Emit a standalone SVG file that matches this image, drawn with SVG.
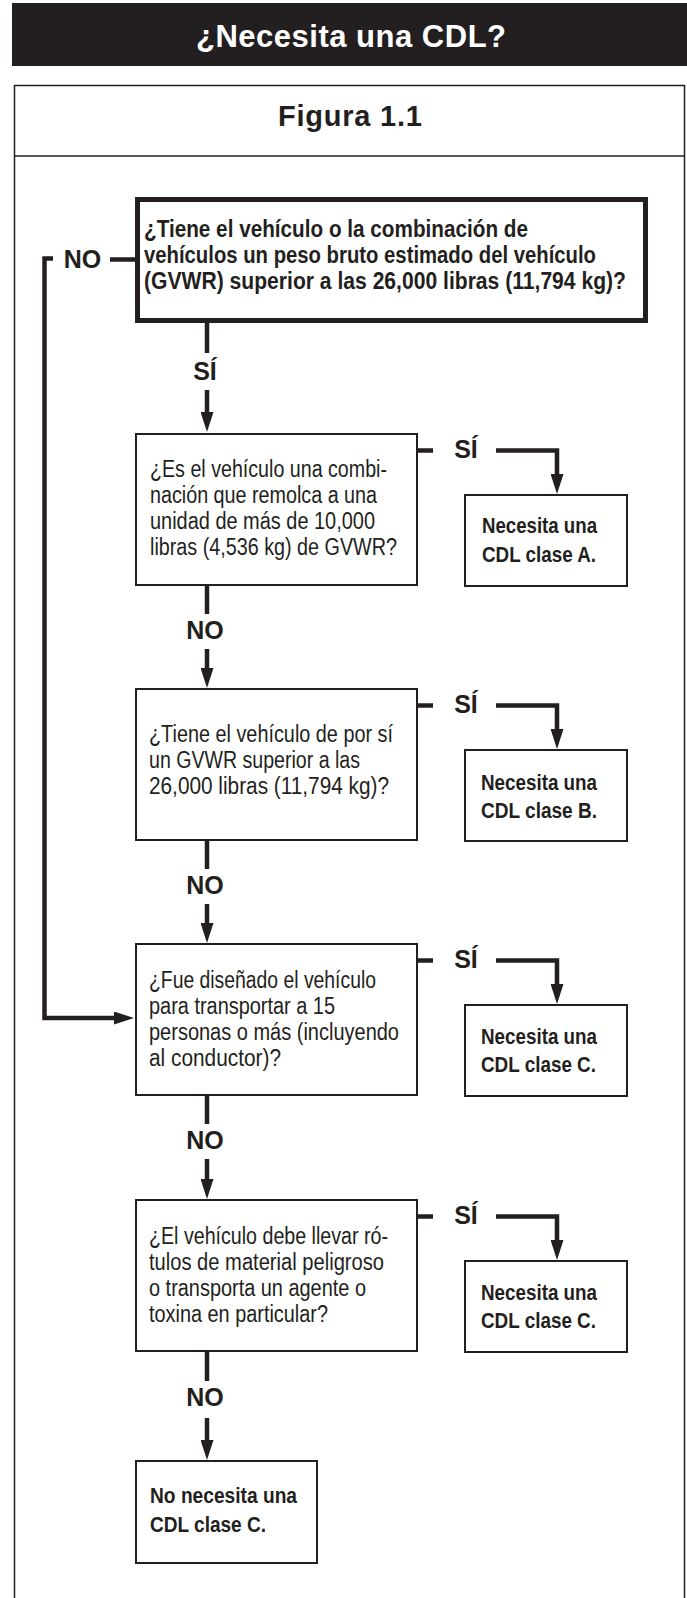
<svg xmlns="http://www.w3.org/2000/svg" width="687" height="1598" viewBox="0 0 687 1598">
<style>
.frame{fill:none;stroke:#231f20;stroke-width:1.5}
.box{fill:#fff;stroke:#231f20;stroke-width:2}
.box1{fill:#fff;stroke:#231f20;stroke-width:5}
.conn{fill:none;stroke:#231f20;stroke-width:4.5;stroke-linejoin:miter;stroke-linecap:butt}
.arr{marker-end:url(#ah)}
text{font-family:"Liberation Sans",Arial,Helvetica,sans-serif;fill:#231f20}
.q{font-size:23.5px}
.qb{font-size:23.5px;font-weight:bold}
.rb{font-size:22px;font-weight:bold}
.lbl{font-size:25px;font-weight:bold;text-anchor:middle}
.head{font-size:30px;font-weight:bold}
</style>
<defs>
<marker id="ah" viewBox="0 0 20 13" markerWidth="20" markerHeight="13" refX="8" refY="6.5" orient="auto" markerUnits="userSpaceOnUse">
<path d="M0,0 L20,6.5 L0,13 Z" fill="#231f20"/>
</marker>
</defs>

<g id="title">
<rect x="12" y="3" width="680" height="63" fill="#231f20"/>
<text class="head" x="196" y="47" textLength="310" lengthAdjust="spacing" style="fill:#fff;font-size:31px">¿Necesita una CDL?</text>
</g>

<g id="figure-frame">
<rect class="frame" x="14.5" y="85.5" width="670" height="1530"/>
<line class="frame" x1="14.5" y1="156" x2="684.5" y2="156"/>
<text class="head" x="278" y="126" textLength="144" lengthAdjust="spacing" style="font-size:29px">Figura 1.1</text>
</g>

<g id="connectors">
<path class="conn" d="M207 323 V353"/>
<path class="conn arr" d="M207 390 V420"/>
<path class="conn" d="M136 259.5 H110"/>
<path class="conn arr" d="M53 258.5 H44.5 V1018 H122"/>
<path class="conn" d="M417 450.5 H433"/>
<path class="conn arr" d="M496 450.5 H557 V482"/>
<path class="conn" d="M207 585 V614"/>
<path class="conn arr" d="M207 649 V676"/>
<path class="conn" d="M417 705.5 H433"/>
<path class="conn arr" d="M496 705.5 H557 V737"/>
<path class="conn" d="M207 840 V869"/>
<path class="conn arr" d="M207 904 V931"/>
<path class="conn" d="M417 960.5 H433"/>
<path class="conn arr" d="M496 960.5 H557 V992"/>
<path class="conn" d="M207 1095 V1124"/>
<path class="conn arr" d="M207 1159 V1187"/>
<path class="conn" d="M417 1216.5 H433"/>
<path class="conn arr" d="M496 1216.5 H557 V1248"/>
<path class="conn" d="M207 1351 V1381"/>
<path class="conn arr" d="M207 1418 V1448"/>
<text class="lbl" x="205" y="380">SÍ</text>
<text class="lbl" x="82.5" y="268">NO</text>
<text class="lbl" x="466" y="458">SÍ</text>
<text class="lbl" x="205" y="639">NO</text>
<text class="lbl" x="466" y="713">SÍ</text>
<text class="lbl" x="205" y="894">NO</text>
<text class="lbl" x="466" y="968">SÍ</text>
<text class="lbl" x="205" y="1149">NO</text>
<text class="lbl" x="466" y="1224">SÍ</text>
<text class="lbl" x="205" y="1406">NO</text>
</g>

<g id="q1">
<rect class="box1" x="137.5" y="199.5" width="508" height="121"/>
<text class="qb" x="144" y="237" textLength="384" lengthAdjust="spacingAndGlyphs">¿Tiene el vehículo o la combinación de</text>
<text class="qb" x="144" y="263" textLength="452" lengthAdjust="spacingAndGlyphs">vehículos un peso bruto estimado del vehículo</text>
<text class="qb" x="144" y="289" textLength="482" lengthAdjust="spacingAndGlyphs">(GVWR) superior a las 26,000 libras (11,794 kg)?</text>
</g>

<g id="q2">
<rect class="box" x="136" y="434" width="281" height="151"/>
<text class="q" x="150" y="477" textLength="237" lengthAdjust="spacingAndGlyphs">¿Es el vehículo una combi-</text>
<text class="q" x="150" y="503" textLength="227" lengthAdjust="spacingAndGlyphs">nación que remolca a una</text>
<text class="q" x="150" y="529" textLength="225" lengthAdjust="spacingAndGlyphs">unidad de más de 10,000</text>
<text class="q" x="150" y="555" textLength="247" lengthAdjust="spacingAndGlyphs">libras (4,536 kg) de GVWR?</text>
</g>

<g id="a-classA">
<rect class="box" x="465" y="495" width="162" height="91"/>
<text class="rb" x="482" y="533" textLength="115" lengthAdjust="spacingAndGlyphs">Necesita una</text>
<text class="rb" x="482" y="562" textLength="114" lengthAdjust="spacingAndGlyphs">CDL clase A.</text>
</g>

<g id="q3">
<rect class="box" x="136" y="689" width="281" height="151"/>
<text class="q" x="149" y="742" textLength="244" lengthAdjust="spacingAndGlyphs">¿Tiene el vehículo de por sí</text>
<text class="q" x="149" y="768" textLength="211" lengthAdjust="spacingAndGlyphs">un GVWR superior a las</text>
<text class="q" x="149" y="794" textLength="240" lengthAdjust="spacingAndGlyphs">26,000 libras (11,794 kg)?</text>
</g>

<g id="a-classB">
<rect class="box" x="465" y="750" width="162" height="91"/>
<text class="rb" x="481" y="790" textLength="116" lengthAdjust="spacingAndGlyphs">Necesita una</text>
<text class="rb" x="481" y="818" textLength="116" lengthAdjust="spacingAndGlyphs">CDL clase B.</text>
</g>

<g id="q4">
<rect class="box" x="136" y="944" width="281" height="151"/>
<text class="q" x="149" y="988" textLength="227" lengthAdjust="spacingAndGlyphs">¿Fue diseñado el vehículo</text>
<text class="q" x="149" y="1014" textLength="186" lengthAdjust="spacingAndGlyphs">para transportar a 15</text>
<text class="q" x="149" y="1040" textLength="250" lengthAdjust="spacingAndGlyphs">personas o más (incluyendo</text>
<text class="q" x="149" y="1066" textLength="132" lengthAdjust="spacingAndGlyphs">al conductor)?</text>
</g>

<g id="a-classC1">
<rect class="box" x="465" y="1005" width="162" height="91"/>
<text class="rb" x="481" y="1044" textLength="116" lengthAdjust="spacingAndGlyphs">Necesita una</text>
<text class="rb" x="481" y="1072" textLength="115" lengthAdjust="spacingAndGlyphs">CDL clase C.</text>
</g>

<g id="q5">
<rect class="box" x="136" y="1200" width="281" height="151"/>
<text class="q" x="149" y="1244" textLength="239" lengthAdjust="spacingAndGlyphs">¿El vehículo debe llevar ró-</text>
<text class="q" x="149" y="1270" textLength="235" lengthAdjust="spacingAndGlyphs">tulos de material peligroso</text>
<text class="q" x="149" y="1296" textLength="217" lengthAdjust="spacingAndGlyphs">o transporta un agente o</text>
<text class="q" x="149" y="1322" textLength="179" lengthAdjust="spacingAndGlyphs">toxina en particular?</text>
</g>

<g id="a-classC2">
<rect class="box" x="465" y="1261" width="162" height="91"/>
<text class="rb" x="481" y="1300" textLength="116" lengthAdjust="spacingAndGlyphs">Necesita una</text>
<text class="rb" x="481" y="1328" textLength="115" lengthAdjust="spacingAndGlyphs">CDL clase C.</text>
</g>

<g id="a-none">
<rect class="box" x="136" y="1461" width="181" height="102"/>
<text class="rb" x="150" y="1503" textLength="147" lengthAdjust="spacingAndGlyphs">No necesita una</text>
<text class="rb" x="150" y="1532" textLength="116" lengthAdjust="spacingAndGlyphs">CDL clase C.</text>
</g>
</svg>
